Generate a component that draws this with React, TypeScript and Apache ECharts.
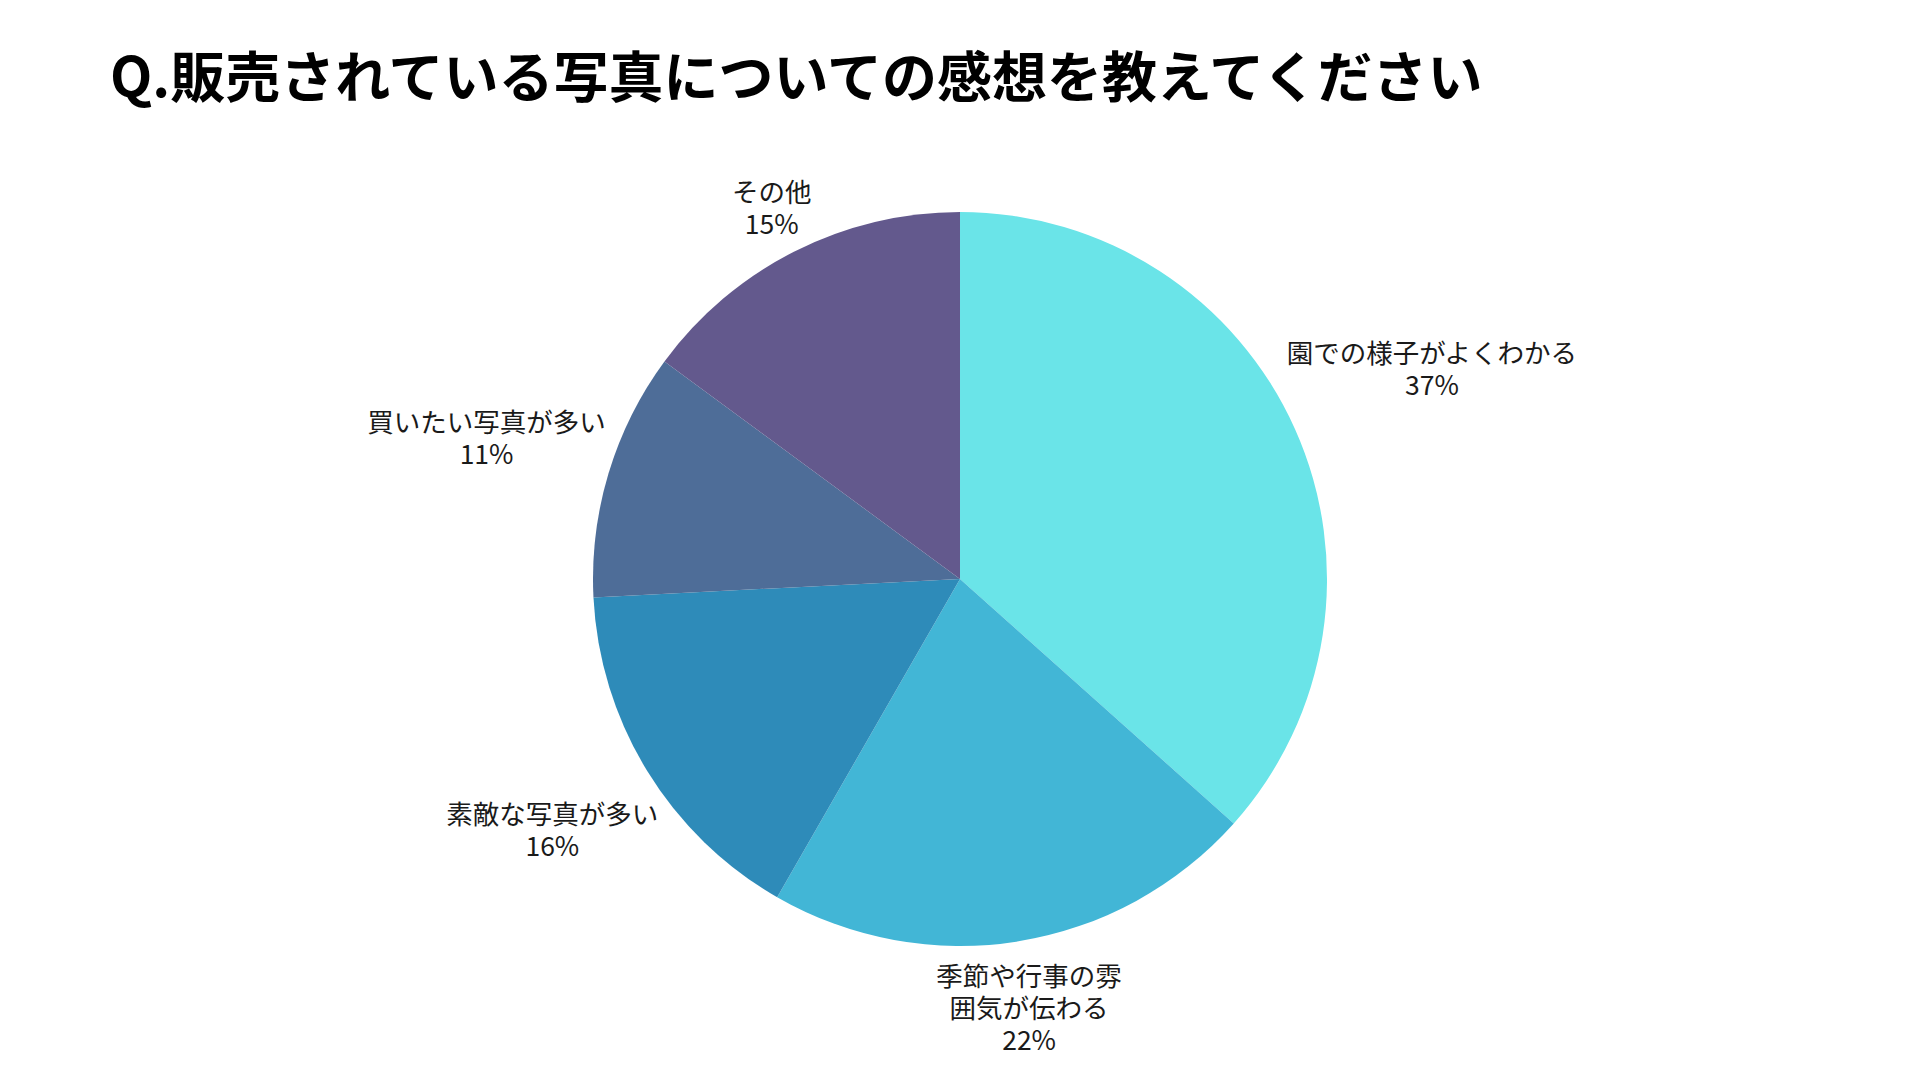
import React, { useEffect, useRef } from "react";
import * as echarts from "echarts";

const TITLE = "Q.販売されている写真についての感想を教えてください";
const categories = [
  "園での様子がよくわかる",
  "季節や行事の雰\n囲気が伝わる",
  "素敵な写真が多い",
  "買いたい写真が多い",
  "その他",
];
const values = [36.6, 21.7, 15.9, 10.9, 14.9];
const colors = ["#6ae4e8", "#42b6d6", "#2e8bb9", "#4e6d98", "#63598d"];

const CX = 960;
const CY = 579;
const R = 367;
const GAP = 4;
const FONT = '"Noto Sans CJK JP", "Noto Sans", sans-serif';

export default function App() {
  const ref = useRef<HTMLDivElement>(null);
  useEffect(() => {
    document.body.style.margin = "0";
    const chart = echarts.init(ref.current!, null, { renderer: "svg" });
    const total = values.reduce((a, b) => a + b, 0);
    chart.setOption({
      animation: false,
      backgroundColor: "#ffffff",
      title: {
        text: TITLE,
        left: 105,
        top: 40,
        textStyle: {
          fontFamily: FONT,
          fontSize: 55,
          fontWeight: "bold",
          color: "#000000",
        },
      },
      series: [
        {
          type: "pie",
          center: [CX, CY],
          radius: [0, R],
          startAngle: 90,
          clockwise: true,
          avoidLabelOverlap: false,
          data: categories.map((name, i) => ({
            name,
            value: values[i],
            itemStyle: { color: colors[i] },
          })),
          label: {
            show: true,
            position: "outside",
            formatter: (p: any) => `${p.name}\n${Math.round(p.value)}%`,
            fontFamily: FONT,
            fontSize: 26.5,
            lineHeight: 32,
            color: "#1a1a1a",
            align: "center",
          },
          labelLine: { show: false },
          labelLayout: (params: any) => {
            const i = params.dataIndex;
            let before = 0;
            for (let k = 0; k < i; k++) before += values[k];
            const mid = ((before + values[i] / 2) / total) * Math.PI * 2;
            const dx = Math.sin(mid);
            const dy = -Math.cos(mid);
            const w = params.labelRect.width / 2;
            const h = params.labelRect.height / 2;
            const d = R + GAP + w * Math.abs(dx) + h * Math.abs(dy);
            return {
              x: CX + dx * d,
              y: CY + dy * d,
              align: "center",
              verticalAlign: "middle",
            };
          },
        },
      ],
    });
    return () => chart.dispose();
  }, []);
  return (
    <div
      ref={ref}
      style={{ position: "absolute", left: 0, top: 0, width: 1920, height: 1080 }}
    />
  );
}
